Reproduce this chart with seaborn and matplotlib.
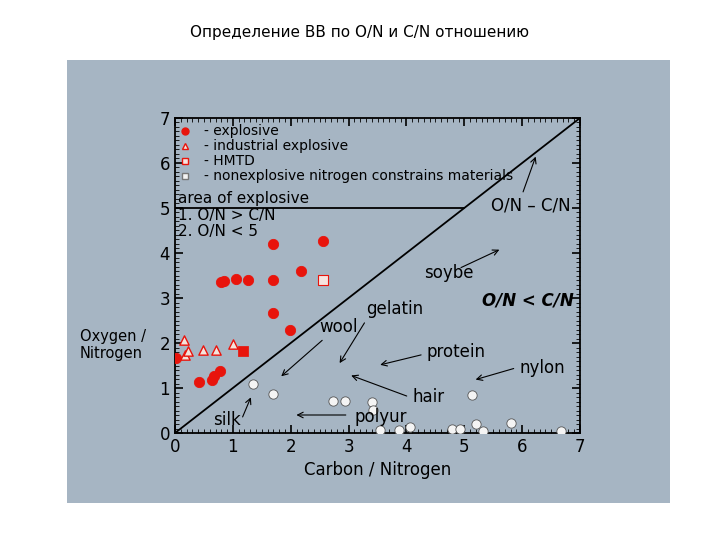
import matplotlib
matplotlib.use("Agg")
import matplotlib.pyplot as plt
import seaborn as sns
import pandas as pd
from matplotlib.patches import Rectangle
from matplotlib.ticker import MultipleLocator

expl_x = [0.02, 0.41, 0.64, 0.67, 0.78, 0.79, 0.85, 1.05, 1.26, 1.69, 1.69, 1.69, 1.99, 2.18, 2.56]
expl_y = [1.67, 1.13, 1.18, 1.27, 1.38, 3.36, 3.38, 3.42, 3.40, 4.20, 3.40, 2.67, 2.29, 3.60, 4.27]
ind_x = [0.16, 0.17, 0.22, 0.48, 0.71, 1.00]
ind_y = [2.07, 1.73, 1.82, 1.84, 1.84, 1.98]
sq_x = [1.17]
sq_y = [1.82]
hmtd_x = [2.56]
hmtd_y = [3.40]
non_x = [1.35, 1.69, 2.73, 2.94, 3.40, 3.42, 3.54, 3.87, 4.06, 4.78, 4.92, 5.13, 5.20, 5.32, 5.80, 6.67]
non_y = [1.09, 0.87, 0.71, 0.71, 0.69, 0.51, 0.07, 0.07, 0.13, 0.09, 0.09, 0.84, 0.20, 0.04, 0.22, 0.04]

bg = "#a6b5c3"
sns.set_style("ticks")
plt.rcParams['font.family'] = ['DejaVu Sans']
plt.rcParams['text.color'] = 'black'
plt.rcParams['xtick.color'] = 'black'
plt.rcParams['ytick.color'] = 'black'
plt.rcParams['axes.labelcolor'] = 'black'
fig = plt.figure(figsize=(7.2, 5.4), dpi=100)
fig.patches.append(Rectangle((67/720, 1-503/540), 603/720, 443/540, transform=fig.transFigure,
                             facecolor=bg, edgecolor="none", zorder=-10))
fig.text(0.5, 1-32/540, "Определение ВВ по O/N и C/N отношению", ha="center", va="center", fontsize=11)
ax = fig.add_axes([175/720, 1-433/540, 405/720, 315/540])
ax.set_zorder(5)
ax.set_facecolor(bg)

sns.scatterplot(x=expl_x, y=expl_y, ax=ax, color="#e8140c", s=55, edgecolor="#e8140c", zorder=3)
sns.scatterplot(x=ind_x, y=ind_y, ax=ax, marker="^", color="#f4e4dc", s=45, edgecolor="#e8140c", linewidth=1, zorder=3)
sns.scatterplot(x=sq_x, y=sq_y, ax=ax, marker="s", color="#e8140c", s=45, edgecolor="#e8140c", zorder=3)
sns.scatterplot(x=hmtd_x, y=hmtd_y, ax=ax, marker="s", color="#f6e4e0", s=45, edgecolor="#e8140c", linewidth=0.8, zorder=3)
sns.scatterplot(x=non_x, y=non_y, ax=ax, color="#f4f4f4", s=45, edgecolor="#555555", linewidth=0.6, zorder=3)

ax.plot([0, 7], [0, 7], color="black", lw=1.3)
ax.plot([0, 5.0], [5, 5], color="black", lw=1.3)
ax.set_xlim(0, 7); ax.set_ylim(0, 7)
ax.xaxis.set_major_locator(MultipleLocator(1)); ax.yaxis.set_major_locator(MultipleLocator(1))
ax.xaxis.set_minor_locator(MultipleLocator(0.1)); ax.yaxis.set_minor_locator(MultipleLocator(0.1))
ax.tick_params(which="both", direction="in", top=True, right=True, labelsize=12, color="black")
ax.tick_params(which="major", length=6, width=1.2)
ax.tick_params(which="minor", length=3)
for s in ax.spines.values():
    s.set_linewidth(1.3)
    s.set_color("black")
ax.set_xlabel("Carbon / Nitrogen", fontsize=12)
fig.text(80/720, 1-345/540, "Oxygen /\nNitrogen", fontsize=10.5, va="center", zorder=10)

fs = 10
leg = [("explosive", "o", "#e8140c", "#e8140c"), ("industrial explosive", "^", "#f4e4dc", "#e8140c"),
       ("HMTD", "s", "#f6e4e0", "#e8140c"), ("nonexplosive nitrogen constrains materials", "s", "#f4f4f4", "#777777")]
for i, (t, m, fc, ec) in enumerate(leg):
    y = 6.7 - i * 0.33
    ax.plot([0.18], [y], marker=m, ms=5, mfc=fc, mec=ec, ls="none")
    ax.text(0.5, y, "- " + t, fontsize=fs, va="center")
ax.text(0.05, 5.2, "area of explosive", fontsize=11, va="center")
ax.text(0.05, 4.83, "1. O/N > C/N", fontsize=11, va="center")
ax.text(0.05, 4.47, "2. O/N < 5", fontsize=11, va="center")

ap = dict(arrowstyle="->", color="black", lw=0.8)
ax.text(5.47, 5.06, "O/N – C/N", fontsize=12, va="center")
ax.annotate("", xy=(6.25, 6.2), xytext=(6.0, 5.3), arrowprops=ap)
ax.text(5.3, 2.95, "O/N < C/N", fontsize=12, va="center", fontweight="bold", style="italic")
ax.text(4.3, 3.55, "soybe", fontsize=12, va="center")
ax.annotate("", xy=(5.65, 4.1), xytext=(4.9, 3.65), arrowprops=ap)
ax.text(3.3, 2.75, "gelatin", fontsize=12, va="center")
ax.text(2.5, 2.35, "wool", fontsize=12, va="center")
ax.annotate("", xy=(1.8, 1.22), xytext=(2.58, 2.1), arrowprops=ap)
ax.annotate("", xy=(2.82, 1.5), xytext=(3.3, 2.5), arrowprops=ap)
ax.text(4.35, 1.8, "protein", fontsize=12, va="center")
ax.annotate("", xy=(3.5, 1.5), xytext=(4.3, 1.75), arrowprops=ap)
ax.text(5.95, 1.45, "nylon", fontsize=12, va="center")
ax.annotate("", xy=(5.15, 1.17), xytext=(5.9, 1.45), arrowprops=ap)
ax.text(4.1, 0.8, "hair", fontsize=12, va="center")
ax.annotate("", xy=(3.0, 1.3), xytext=(4.05, 0.8), arrowprops=ap)
ax.text(3.1, 0.35, "polyur", fontsize=12, va="center")
ax.annotate("", xy=(2.05, 0.4), xytext=(3.0, 0.4), arrowprops=ap)
ax.text(0.65, 0.28, "silk", fontsize=12, va="center")
ax.annotate("", xy=(1.33, 0.85), xytext=(1.15, 0.3), arrowprops=ap)

fig.savefig("out.png", dpi=100)
